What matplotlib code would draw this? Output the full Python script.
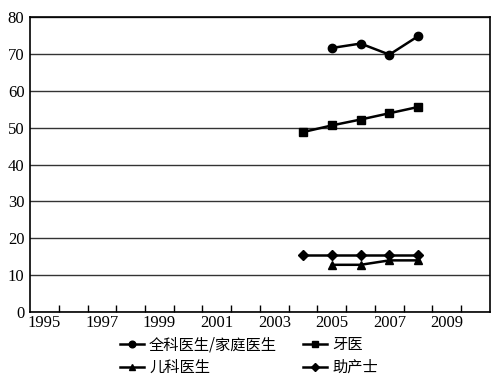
import matplotlib
matplotlib.use("Agg")
import matplotlib.pyplot as plt

# 数据
years = list(range(1995, 2011))
gp_years = [2005, 2006, 2007, 2008]
gp_values = [71.6, 72.8, 69.8, 74.8]
dent_years = [2004, 2005, 2006, 2007, 2008]
dent_values = [48.8, 50.6, 52.2, 53.9, 55.6]
ped_years = [2005, 2006, 2007, 2008]
ped_values = [12.8, 12.8, 14.0, 14.0]
mid_years = [2004, 2005, 2006, 2007, 2008]
mid_values = [15.5, 15.5, 15.5, 15.5, 15.5]

labels = ["全科医生/家庭医生", "牙医", "儿科医生", "助产士"]
tick_years = [1995, 1997, 1999, 2001, 2003, 2005, 2007, 2009]

plt.rcParams["font.family"] = ["Liberation Serif", "Noto Sans CJK SC", "DejaVu Sans"]

fig = plt.figure(figsize=(4.97, 3.79), dpi=100)
ax = fig.add_axes([30 / 497, 67 / 379, 460 / 497, 295 / 379])

# 类别轴: 年份在格子中心
def pos(ys):
    return [y - years[0] + 0.5 for y in ys]

series = [
    (gp_years, gp_values, "o", 6),
    (dent_years, dent_values, "s", 5.5),
    (ped_years, ped_values, "^", 6),
    (mid_years, mid_values, "D", 5),
]

handles = []
for (xs, vals, mk, ms), lab in zip(series, labels):
    h, = ax.plot(pos(xs), vals, color="black", linewidth=1.8,
                 marker=mk, markersize=ms, label=lab, zorder=3)
    handles.append(h)

ax.set_xlim(0, len(years))
ax.set_ylim(0, 80)
ax.set_yticks(range(0, 81, 10))
ax.yaxis.grid(True, color="#333333", linewidth=1)
ax.tick_params(axis="y", length=0, labelsize=12, pad=4)

ax.set_xticks(range(1, len(years)))
ax.set_xticklabels([])
ax.set_xticks(pos(tick_years), minor=True)
ax.set_xticklabels([str(y) for y in tick_years], minor=True, fontsize=12)
ax.tick_params(axis="x", which="major", direction="in", length=5, width=1)
ax.tick_params(axis="x", which="minor", length=0, pad=2)

for s in ax.spines.values():
    s.set_linewidth(1.2)

# 图例按行排列: 第一行 全科医生/牙医, 第二行 儿科医生/助产士
order = [0, 2, 1, 3]
fig.legend(handles=[handles[i] for i in order], loc="upper left",
           bbox_to_anchor=(120 / 497, 1 - 336 / 379), borderaxespad=0, borderpad=0,
           ncol=2, frameon=False, handlelength=1.6, markerscale=0.8,
           handletextpad=0.3, columnspacing=1.7, labelspacing=0.4,
           prop={"family": ["Noto Sans CJK SC"], "size": 11})

fig.savefig("out.png", dpi=100)
